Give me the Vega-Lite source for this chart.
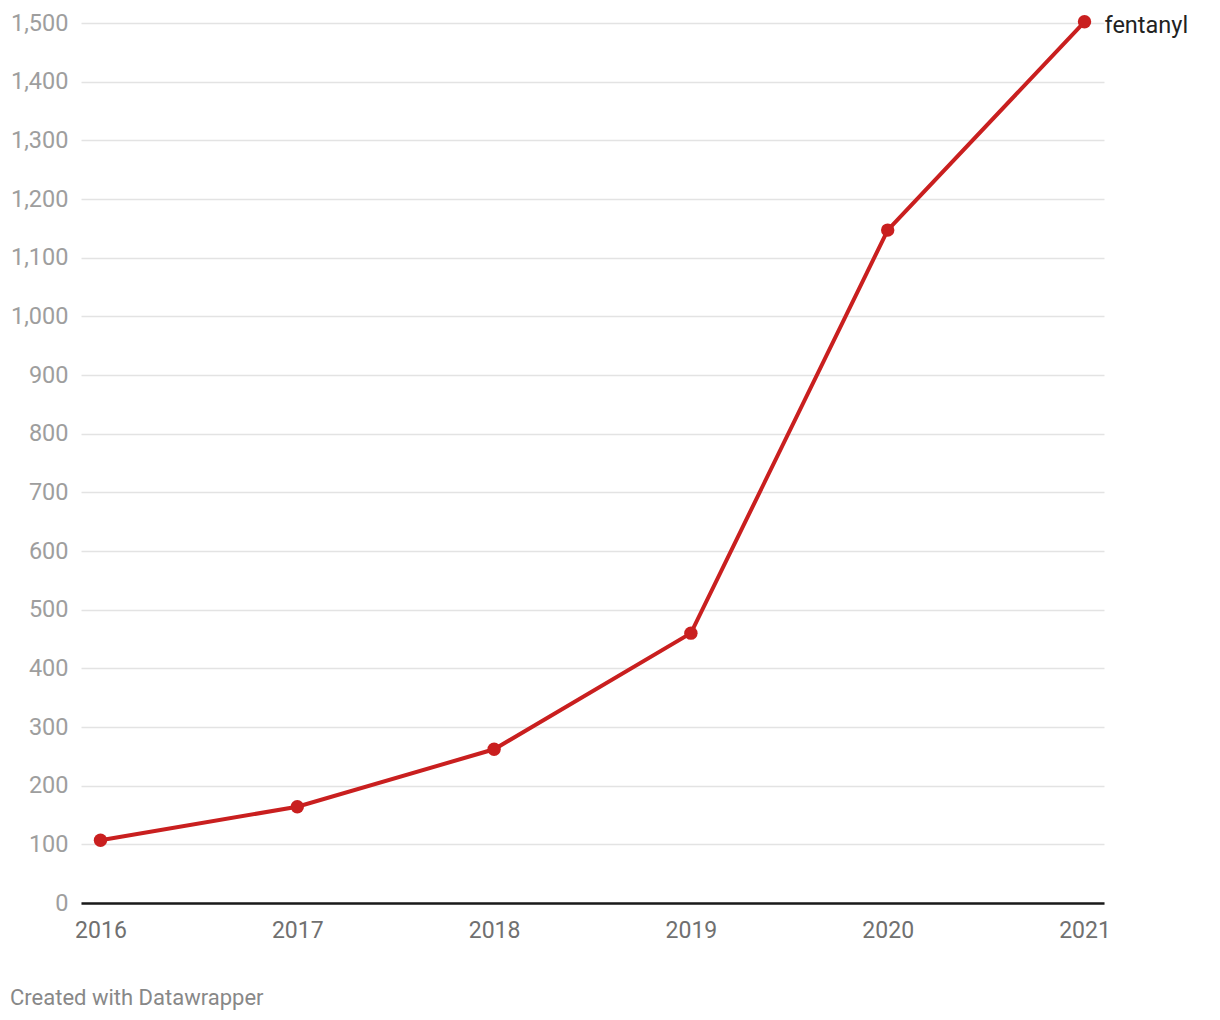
{
  "$schema": "https://vega.github.io/schema/vega-lite/v6.json",
  "width": 1023,
  "height": 880,
  "autosize": {"type": "none"},
  "padding": {"left": 81, "top": 23, "right": 116, "bottom": 117},
  "background": "white",
  "config": {
    "font": "Roboto",
    "view": {"stroke": null}
  },
  "title": {
    "text": "Created with Datawrapper",
    "orient": "bottom",
    "anchor": "start",
    "frame": "group",
    "dx": -71,
    "offset": 46,
    "fontSize": 22,
    "fontWeight": "normal",
    "color": "#888888",
    "font": "Roboto"
  },
  "data": {
    "values": [
      {"year": "2016", "deaths": 107, "series": "fentanyl"},
      {"year": "2017", "deaths": 164, "series": "fentanyl"},
      {"year": "2018", "deaths": 262, "series": "fentanyl"},
      {"year": "2019", "deaths": 460, "series": "fentanyl"},
      {"year": "2020", "deaths": 1147, "series": "fentanyl"},
      {"year": "2021", "deaths": 1502, "series": "fentanyl"}
    ]
  },
  "encoding": {
    "x": {
      "field": "year",
      "type": "ordinal",
      "scale": {"type": "point", "padding": 0.099},
      "axis": {
        "title": null,
        "labelAngle": 0,
        "ticks": false,
        "domain": true,
        "domainColor": "#1a1a1a",
        "domainWidth": 2.5,
        "labelColor": "#707070",
        "labelFontSize": 23,
        "labelPadding": 16,
        "labelFont": "Roboto",
        "grid": false
      }
    },
    "y": {
      "field": "deaths",
      "type": "quantitative",
      "scale": {"domain": [0, 1500], "nice": false},
      "axis": {
        "title": null,
        "values": [0, 100, 200, 300, 400, 500, 600, 700, 800, 900, 1000, 1100, 1200, 1300, 1400, 1500],
        "format": ",.0f",
        "ticks": false,
        "domain": false,
        "grid": true,
        "gridColor": "#e3e3e3",
        "gridWidth": 1.5,
        "labelColor": "#9e9e9e",
        "labelFontSize": 23.5,
        "labelPadding": 13,
        "labelFont": "Roboto"
      }
    }
  },
  "layer": [
    {
      "mark": {"type": "line", "color": "#c91f1f", "strokeWidth": 4}
    },
    {
      "mark": {"type": "circle", "color": "#c91f1f", "opacity": 1, "size": 180}
    },
    {
      "transform": [{"filter": "datum.year == '2021'"}],
      "mark": {"type": "text", "align": "left", "baseline": "middle", "dx": 20, "dy": 4, "fontSize": 23.5, "color": "#222222", "font": "Roboto"},
      "encoding": {"text": {"field": "series"}}
    }
  ]
}
